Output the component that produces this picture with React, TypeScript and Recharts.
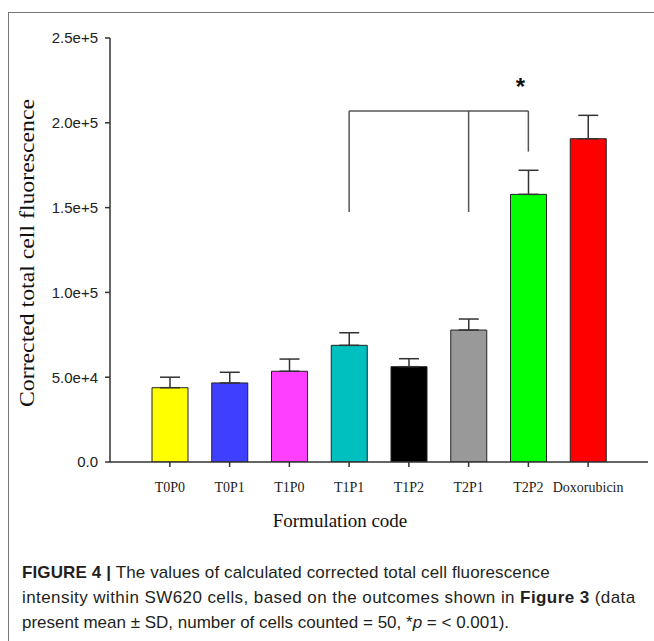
import React from 'react';
import { BarChart, Bar, XAxis, YAxis, Cell, ErrorBar, ReferenceLine, ReferenceDot } from 'recharts';

// Values (mean and SD of corrected total cell fluorescence)
const categories = ['T0P0', 'T0P1', 'T1P0', 'T1P1', 'T1P2', 'T2P1', 'T2P2', 'Doxorubicin'];
const means = [43800, 46600, 53500, 68800, 56200, 77800, 157800, 190600];
const sds = [6200, 6300, 7200, 7400, 4700, 6500, 14200, 13800];
const barColors = ['#ffff00', '#3f3fff', '#ff3fff', '#00bfbf', '#000000', '#999999', '#00ff00', '#ff0000'];
const yTicks = [0, 50000, 100000, 150000, 200000, 250000];
const yTickLabels = ['0.0', '5.0e+4', '1.0e+5', '1.5e+5', '2.0e+5', '2.5e+5'];

// significance bracket
const bracketTop = 207000;
const bracketStart = 'T1P1';
const bracketEnd = 'T2P2';
const bracketLegs = [
  { cat: 'T1P1', from: 147400 },
  { cat: 'T2P1', from: 147400 },
  { cat: 'T2P2', from: 183000 },
];
const starY = 223500;

const data = categories.map((name, i) => ({
  name,
  value: means[i],
  err: [0, sds[i]],
}));

const axisColor = '#333';

const YLabel = ({ viewBox }: any) => {
  const cx = 27;
  const cy = viewBox.y + viewBox.height / 2 + 3;
  return (
    <text
      x={cx}
      y={cy}
      transform={`rotate(-90 ${cx} ${cy})`}
      textAnchor="middle"
      dominantBaseline="central"
      fontFamily="'Liberation Serif', serif"
      fontSize={20}
      fill="#111"
      textLength={308}
      lengthAdjust="spacingAndGlyphs"
    >
      Corrected total cell fluorescence
    </text>
  );
};

const XLabel = ({ viewBox }: any) => (
  <text
    x={340}
    y={viewBox.y + 65}
    textAnchor="middle"
    fontFamily="'Liberation Serif', serif"
    fontSize={19}
    fill="#111"
  >
    Formulation code
  </text>
);

const Star = ({ viewBox }: any) => (
  <text
    x={viewBox.x - 8}
    y={viewBox.y + 12}
    textAnchor="middle"
    fontFamily="'Liberation Sans', Arial, sans-serif"
    fontWeight="bold"
    fontSize={24}
    fill="#111"
  >
    *
  </text>
);

export default function App() {
  return (
    <div style={{ position: 'absolute', left: 0, top: 0, width: 654, height: 641, background: '#fff', overflow: 'hidden' }}>
      {/* figure frame */}
      <div style={{ position: 'absolute', left: 8, top: 12, right: 0, height: 0, borderTop: '1.5px solid #777' }} />
      <div style={{ position: 'absolute', left: 8, top: 12, bottom: 0, width: 0, borderLeft: '1.5px solid #777' }} />

      <div style={{ position: 'absolute', left: 0, top: 0 }}>
        <BarChart width={654} height={540} data={data} margin={{ top: 38, right: 6, bottom: 0, left: 0 }}>
          <XAxis
            dataKey="name"
            padding={{ left: 30, right: 30 }}
            height={78}
            stroke={axisColor}
            strokeWidth={1.5}
            tickSize={5}
            tickMargin={15}
            tick={{ fontFamily: "'Liberation Serif', serif", fontSize: 14, fill: '#222' }}
            interval={0}
            label={<XLabel />}
          />
          <YAxis
            domain={[0, 250000]}
            ticks={yTicks}
            width={110}
            stroke={axisColor}
            strokeWidth={1.5}
            tickSize={5}
            tickMargin={7}
            tickFormatter={(v: number) => yTickLabels[yTicks.indexOf(v)]}
            tick={{ fontFamily: "'Liberation Sans', Arial, sans-serif", fontSize: 15, fill: '#222' }}
            allowDataOverflow
            label={<YLabel />}
          />
          <Bar dataKey="value" barSize={36} stroke="#222" strokeWidth={1} isAnimationActive={false}>
            {data.map((d, i) => (
              <Cell key={d.name} fill={barColors[i]} />
            ))}
            <ErrorBar dataKey="err" width={10} stroke="#333" strokeWidth={1.5} />
          </Bar>
          <ReferenceLine
            segment={[{ x: bracketStart, y: bracketTop }, { x: bracketEnd, y: bracketTop }]}
            stroke="#555"
            strokeWidth={1.5}
            ifOverflow="visible"
          />
          {bracketLegs.map((l) => (
            <ReferenceLine
              key={l.cat}
              segment={[{ x: l.cat, y: l.from }, { x: l.cat, y: bracketTop }]}
              stroke="#555"
              strokeWidth={1.5}
              ifOverflow="visible"
            />
          ))}
          <ReferenceDot x={bracketEnd} y={starY} r={0} stroke="none" ifOverflow="visible" label={<Star />} />
        </BarChart>
      </div>

      <div
        style={{
          position: 'absolute',
          left: 22,
          top: 560,
          fontFamily: "'Liberation Sans', Arial, sans-serif",
          fontSize: 17,
          lineHeight: '25px',
          color: '#231f20',
          whiteSpace: 'nowrap',
        }}
      >
        <div style={{ letterSpacing: 0.12 }}>
          <b>FIGURE 4 |</b> The values of calculated corrected total cell fluorescence
        </div>
        <div style={{ letterSpacing: 0.42 }}>
          intensity within SW620 cells, based on the outcomes shown in <b>Figure 3</b> (data
        </div>
        <div>
          present mean ± SD, number of cells counted = 50, *<i>p</i> = &lt; 0.001).
        </div>
      </div>
    </div>
  );
}
